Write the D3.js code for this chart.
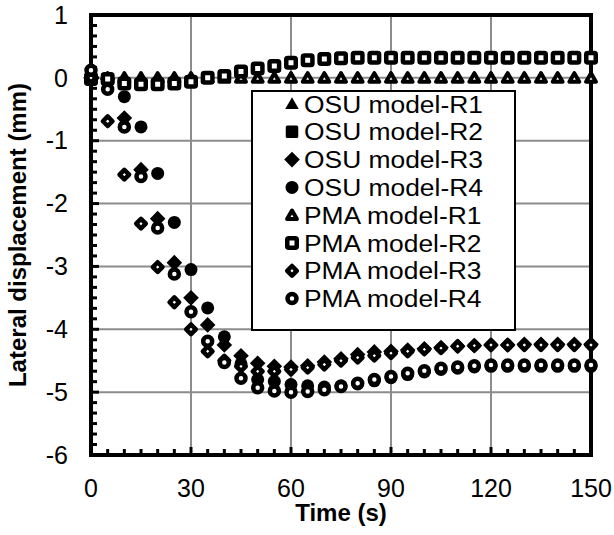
<!DOCTYPE html>
<html>
<head>
<meta charset="utf-8">
<script src="https://cdn.jsdelivr.net/npm/d3@7"></script>
<style>
  body { margin: 0; background: #fff; }
  svg { display: block; font-family: Arial, "Liberation Sans", sans-serif; }
</style>
</head>
<body>
<script>
// time axis, one reading every 5 s
var times = d3.range(0, 151, 5);

var xTicks = [0, 30, 60, 90, 120, 150];
var yTicks = [1, 0, -1, -2, -3, -4, -5, -6];

var seriesNames = ["OSU model-R1", "OSU model-R2", "OSU model-R3", "OSU model-R4",
                   "PMA model-R1", "PMA model-R2", "PMA model-R3", "PMA model-R4"];

var osuR1 = [0, 0, 0, 0, 0, 0, 0, 0, 0, 0, 0, 0, 0, 0, 0, 0, 0, 0, 0, 0, 0, 0, 0, 0, 0, 0, 0, 0, 0, 0, 0];
var osuR2 = [-0.02, -0.02, -0.09, -0.1, -0.1, -0.09, -0.06, 0, 0.03, 0.1, 0.15, 0.19, 0.24, 0.28, 0.3, 0.31,
             0.32, 0.32, 0.32, 0.32, 0.32, 0.32, 0.32, 0.32, 0.32, 0.32, 0.32, 0.32, 0.32, 0.32, 0.32];
var osuR3 = [0, -0.02, -0.64, -1.46, -2.24, -2.94, -3.5, -3.93, -4.25, -4.42, -4.54, -4.59, -4.6, -4.58, -4.52, -4.47,
             -4.4, -4.36, -4.35, -4.33, -4.31, -4.29, -4.27, -4.26, -4.25, -4.25, -4.24, -4.24, -4.24, -4.24, -4.24];
var osuR4 = [0, -0.05, -0.3, -0.78, -1.52, -2.3, -3.05, -3.66, -4.12, -4.55, -4.8, -4.83, -4.88, -4.9, -4.92, -4.9,
             -4.87, -4.82, -4.77, -4.72, -4.68, -4.64, -4.62, -4.6, -4.59, -4.59, -4.59, -4.59, -4.59, -4.59, -4.59];
var pmaR1 = [0, 0, 0, 0, 0, 0, 0, 0, 0, 0, 0, 0, 0, 0, 0, 0, 0, 0, 0, 0, 0, 0, 0, 0, 0, 0, 0, 0, 0, 0, 0];
var pmaR2 = [-0.02, -0.02, -0.09, -0.1, -0.1, -0.09, -0.06, 0, 0.03, 0.1, 0.15, 0.19, 0.24, 0.28, 0.3, 0.31,
             0.32, 0.32, 0.32, 0.32, 0.32, 0.32, 0.32, 0.32, 0.32, 0.32, 0.32, 0.32, 0.32, 0.32, 0.32];
var pmaR3 = [0, -0.69, -1.54, -2.32, -3.01, -3.57, -4.0, -4.35, -4.5, -4.59, -4.67, -4.67, -4.64, -4.61, -4.56, -4.5,
             -4.45, -4.42, -4.38, -4.35, -4.32, -4.3, -4.27, -4.26, -4.25, -4.25, -4.25, -4.25, -4.25, -4.25, -4.25];
var pmaR4 = [0.12, -0.18, -0.78, -1.57, -2.39, -3.12, -3.72, -4.19, -4.53, -4.78, -4.93, -4.98, -5.0, -4.99, -4.96, -4.91,
             -4.86, -4.8, -4.75, -4.7, -4.66, -4.62, -4.6, -4.58, -4.57, -4.57, -4.57, -4.57, -4.57, -4.57, -4.57];

var seriesValues = [osuR1, osuR2, osuR3, osuR4, pmaR1, pmaR2, pmaR3, pmaR4];

var width = 614, height = 535;
var margin = { left: 91, top: 15, right: 23, bottom: 80 };
var plotW = width - margin.left - margin.right;
var plotH = height - margin.top - margin.bottom;

var svg = d3.select("body").append("svg")
    .attr("width", width).attr("height", height);

var x = d3.scaleLinear().domain([0, 150]).range([0, plotW]);
var y = d3.scaleLinear().domain([-6, 1]).range([plotH, 0]);

var g = svg.append("g").attr("transform", "translate(" + margin.left + "," + margin.top + ")");

/** grid **/
g.append("g").selectAll("line").data(xTicks.slice(1, -1)).enter().append("line")
    .attr("x1", d => x(d)).attr("x2", d => x(d))
    .attr("y1", 0).attr("y2", plotH)
    .attr("stroke", "#8c8c8c").attr("stroke-width", 2);
g.append("g").selectAll("line").data(yTicks.slice(1, -1)).enter().append("line")
    .attr("x1", 0).attr("x2", plotW)
    .attr("y1", d => y(d)).attr("y2", d => y(d))
    .attr("stroke", "#8c8c8c").attr("stroke-width", 2);

/** inner ticks **/
var xMinor = d3.range(0, 151, 5);
var yMinor = d3.range(-36, 7).map(d => d / 6);
g.append("g").selectAll("line").data(xMinor).enter().append("line")
    .attr("x1", d => x(d)).attr("x2", d => x(d))
    .attr("y1", plotH).attr("y2", d => plotH - (d % 30 === 0 ? 8 : 6))
    .attr("stroke", "#000").attr("stroke-width", 3);
g.append("g").selectAll("line").data(yMinor).enter().append("line")
    .attr("x1", 0).attr("x2", d => (Math.abs(d - Math.round(d)) < 1e-6 ? 8 : 6))
    .attr("y1", d => y(d)).attr("y2", d => y(d))
    .attr("stroke", "#000").attr("stroke-width", 3);

/** frame **/
g.append("rect").attr("width", plotW).attr("height", plotH)
    .attr("fill", "none").attr("stroke", "#000").attr("stroke-width", 4);

/** tick labels **/
g.append("g").selectAll("text").data(xTicks).enter().append("text")
    .attr("x", d => x(d)).attr("y", plotH + 42)
    .attr("text-anchor", "middle").attr("font-size", 25)
    .text(d => String(d));
g.append("g").selectAll("text").data(yTicks).enter().append("text")
    .attr("x", -23).attr("y", d => y(d)).attr("dy", "0.35em")
    .attr("text-anchor", "end").attr("font-size", 25)
    .text(d => String(d));

/** axis titles **/
svg.append("text")
    .attr("x", margin.left + plotW / 2).attr("y", 521)
    .attr("text-anchor", "middle").attr("font-size", 24).attr("font-weight", "bold")
    .text("Time (s)");
svg.append("text")
    .attr("transform", "translate(26," + (margin.top + plotH / 2) + ") rotate(-90)")
    .attr("text-anchor", "middle").attr("font-size", 24).attr("font-weight", "bold")
    .text("Lateral displacement (mm)");

/** markers **/
function drawMarker(sel, idx) {
    var filled = idx < 4;
    var kind = idx % 4;
    var fill = filled ? "#000" : "#fff";
    var sw = filled ? 0 : 4.5;
    if (kind === 0) {
        sel.append("path").attr("d", d3.symbol(d3.symbolTriangle, filled ? 80 : 42)())
            .attr("transform", "translate(0,1)")
            .attr("fill", fill).attr("stroke", "#000").attr("stroke-width", filled ? 0 : 4)
            .attr("stroke-linejoin", "round");
    } else if (kind === 1) {
        var s = filled ? 12.5 : 9.5;
        sel.append("rect").attr("x", -s / 2).attr("y", -s / 2).attr("width", s).attr("height", s)
            .attr("rx", 1.5)
            .attr("fill", fill).attr("stroke", "#000").attr("stroke-width", sw);
    } else if (kind === 2) {
        var r = filled ? 7.8 : 4.8;
        sel.append("path").attr("d", "M0," + (-r) + "L" + r + ",0L0," + r + "L" + (-r) + ",0Z")
            .attr("fill", fill).attr("stroke", "#000").attr("stroke-width", sw)
            .attr("stroke-linejoin", "round");
    } else {
        sel.append("circle").attr("r", filled ? 6.5 : 4.5)
            .attr("fill", fill).attr("stroke", "#000").attr("stroke-width", sw);
    }
}

seriesValues.forEach((vals, idx) => {
    var pts = times.map((t, i) => ({ t: t, v: vals[i] }));
    g.append("g").selectAll("g").data(pts).enter().append("g")
        .attr("transform", d => "translate(" + x(d.t) + "," + y(d.v) + ")")
        .each(function () { drawMarker(d3.select(this), idx); });
});

/** legend **/
var lg = svg.append("g").attr("transform", "translate(252,91)");
lg.append("rect").attr("width", 263).attr("height", 239)
    .attr("fill", "#fff").attr("stroke", "#000").attr("stroke-width", 2);
var entries = lg.selectAll("g.entry").data(seriesNames).enter().append("g")
    .attr("class", "entry")
    .attr("transform", (d, i) => "translate(40," + (13 + i * 27.8) + ")");
entries.each(function (d, i) { drawMarker(d3.select(this), i); });
entries.append("text").attr("transform", "translate(12,0) scale(1.1,1)").attr("dy", "0.36em")
    .attr("font-size", 24).text(d => d);
</script>
</body>
</html>
